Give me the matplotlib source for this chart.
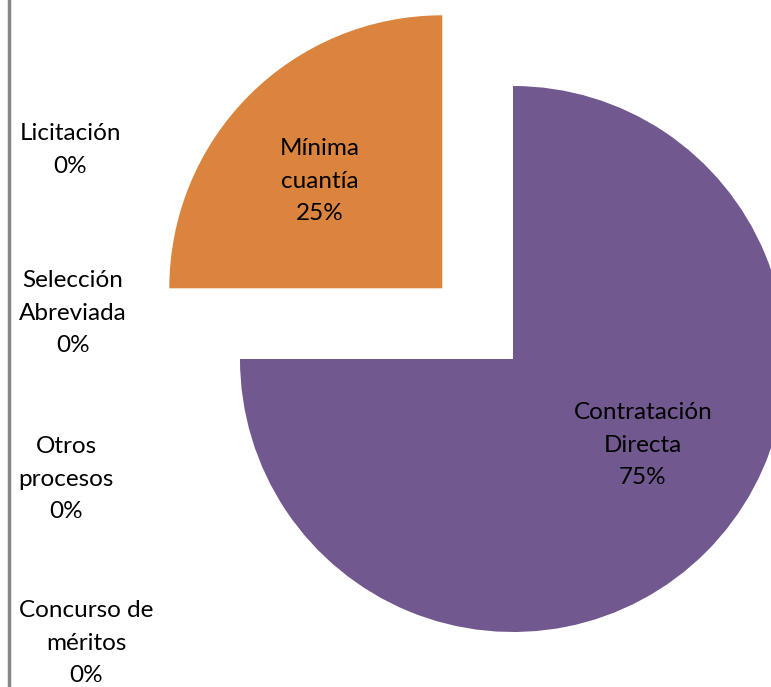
import matplotlib
matplotlib.use('Agg')
import matplotlib.pyplot as plt
from matplotlib.lines import Line2D

# data
labels = ['Contratación\nDirecta', 'Mínima\ncuantía']
values = [75, 25]
colors = ['#71588F', '#DB843D']
explode = [0, 100]  # offset in pixels of the data frame
zero_labels = ['Licitación', 'Selección\nAbreviada', 'Otros\nprocesos', 'Concurso de\nméritos']
zero_values = [0, 0, 0, 0]

W, H = 771, 687
plt.rcParams['font.family'] = ['Lato', 'DejaVu Sans']
FS = 17.5
LS = 1.68

fig = plt.figure(figsize=(W / 100, H / 100), dpi=100)
ax = fig.add_axes([0, 0, 1, 1])

wedges, texts, autotexts = ax.pie(
    values, colors=colors, explode=explode, startangle=90, counterclock=False,
    center=(513, H - 359), radius=273, autopct='%1.0f%%', pctdistance=0.6,
    wedgeprops=dict(linewidth=0), textprops=dict(fontsize=FS, color='black'),
    frame=True)
ax.set_xlim(0, W)
ax.set_ylim(0, H)
ax.set_aspect('equal')
ax.axis('off')

label_pos = [(643, H - 445), (320, H - 181)]
for t, lab, pos in zip(autotexts, labels, label_pos):
    t.set_text(lab + '\n' + t.get_text())
    t.set_position(pos)
    t.set_ha('center')
    t.set_va('center')
    t.set_linespacing(LS)

zero_pos = [(70, H - 150), (73, H - 313), (66, H - 479), (86, H - 643)]
for lab, v, pos in zip(zero_labels, zero_values, zero_pos):
    ax.text(pos[0], pos[1], '%s\n%d%%' % (lab, v), ha='center', va='center',
            fontsize=FS, linespacing=LS)

fig.add_artist(Line2D([9 / W, 9 / W], [0, 1], color='#868686', linewidth=2.5))

fig.savefig('out.png', dpi=100)
